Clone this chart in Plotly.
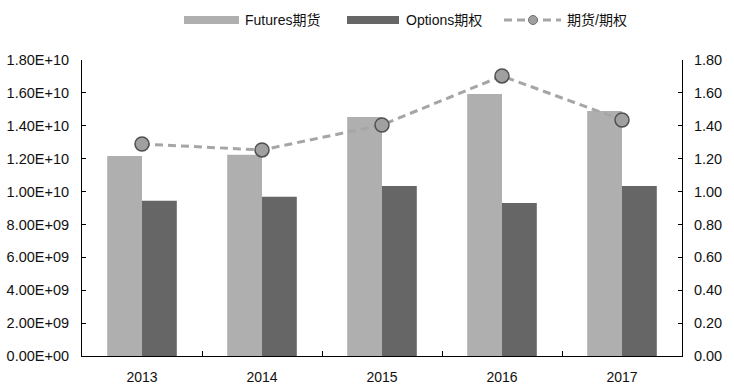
import plotly.graph_objects as go

years = ["2013", "2014", "2015", "2016", "2017"]
futures = [1.216e10, 1.224e10, 1.453e10, 1.593e10, 1.490e10]
options = [0.944e10, 0.969e10, 1.034e10, 0.930e10, 1.034e10]
ratio = [1.289, 1.253, 1.405, 1.703, 1.435]

left_ticks = [i * 2e9 for i in range(10)]
left_text = [f"{v:.2E}" for v in left_ticks]
right_ticks = [i * 0.2 for i in range(10)]
right_text = [f"{v:.2f}" for v in right_ticks]

FONT = "Liberation Sans, Arial, Noto Sans CJK SC, sans-serif"
C_FUT = "#afafaf"
C_OPT = "#666666"
C_LINE = "#a6a6a6"
TXT = "#111111"
DASH = "8px,5px"

W, H = 734, 384

fig = go.Figure()
fig.add_trace(go.Bar(x=years, y=futures, name="Futures期货", marker_color=C_FUT,
                     marker_line_width=0, showlegend=False))
fig.add_trace(go.Bar(x=years, y=options, name="Options期权", marker_color=C_OPT,
                     marker_line_width=0, showlegend=False))
fig.add_trace(go.Scatter(x=years, y=ratio, name="期货/期权", yaxis="y2",
                         mode="lines+markers",
                         line=dict(color=C_LINE, width=3, dash=DASH),
                         marker=dict(size=14, color="#a0a0a0",
                                     line=dict(color="#505050", width=1.5)),
                         showlegend=False))

# plot area in window pixels: x 82..682, y 60..356
L, R, T, B = 82, 682, 60, 356
def px(x):
    return (x - L) / (R - L)
def py(y):
    return (B - y) / (B - T)

shapes = [
    dict(type="rect", xref="paper", yref="paper", x0=px(184), x1=px(239),
         y0=py(24), y1=py(16), fillcolor=C_FUT, line_width=0),
    dict(type="rect", xref="paper", yref="paper", x0=px(347), x1=px(399),
         y0=py(24), y1=py(16), fillcolor=C_OPT, line_width=0),
    dict(type="line", xref="paper", yref="paper", x0=px(504), x1=px(561),
         y0=py(20), y1=py(20), line=dict(color=C_LINE, width=3, dash=DASH)),
    dict(type="circle", xref="paper", yref="paper", xsizemode="pixel",
         ysizemode="pixel", xanchor=px(533), yanchor=py(20),
         x0=-4.5, x1=4.5, y0=-4.5, y1=4.5, fillcolor="#a0a0a0",
         line=dict(color="#707070", width=1)),
]
annotations = [
    dict(text="Futures期货", xref="paper", yref="paper", x=px(243), y=py(20),
         xanchor="left", yanchor="middle", showarrow=False,
         font=dict(family=FONT, size=14, color=TXT)),
    dict(text="Options期权", xref="paper", yref="paper", x=px(404), y=py(20),
         xanchor="left", yanchor="middle", showarrow=False,
         font=dict(family=FONT, size=14, color=TXT)),
    dict(text="期货/期权", xref="paper", yref="paper", x=px(565), y=py(20),
         xanchor="left", yanchor="middle", showarrow=False,
         font=dict(family=FONT, size=14, color=TXT)),
]

fig.update_layout(
    width=W, height=H,
    margin=dict(l=L, r=W - R, t=T, b=H - B, pad=0, autoexpand=False),
    paper_bgcolor="white", plot_bgcolor="white",
    barmode="group", bargap=0.42, bargroupgap=0,
    font=dict(family=FONT, size=14, color=TXT),
    showlegend=False,
    shapes=shapes, annotations=annotations,
    xaxis=dict(type="category", showline=True, linecolor="#000", linewidth=1,
               ticks="inside", tickson="boundaries", ticklen=5,
               tickcolor="#000", showgrid=False, range=[-0.5, 4.5],
               tickfont=dict(size=14), ticklabelstandoff=8, automargin=False),
    yaxis=dict(range=[0, 1.8e10], tickvals=left_ticks, ticktext=left_text,
               showline=True, linecolor="#000", linewidth=1, ticks="inside",
               ticklen=4, tickcolor="#000", showgrid=False, zeroline=False,
               tickfont=dict(size=14.5), ticklabelstandoff=9, automargin=False),
    yaxis2=dict(range=[0, 1.8], overlaying="y", side="right",
                tickvals=right_ticks, ticktext=right_text,
                showline=True, linecolor="#000", linewidth=1, ticks="inside",
                ticklen=4, tickcolor="#000", showgrid=False, zeroline=False,
                tickfont=dict(size=14.5), ticklabelstandoff=8, automargin=False),
)

fig.write_html("out.html",
               config={"displayModeBar": False},
               post_script="document.body.style.margin='0';"
                           "document.body.style.overflow='hidden';")
